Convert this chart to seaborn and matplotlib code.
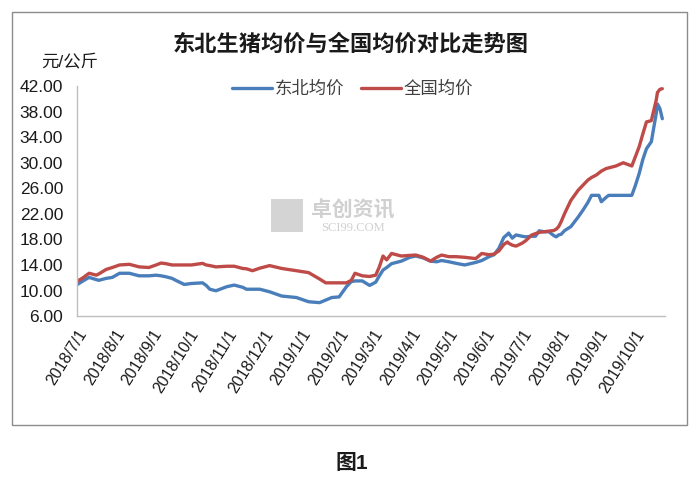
import pandas as pd
import matplotlib
matplotlib.use('Agg')
import matplotlib.pyplot as plt
import matplotlib.dates as mdates
from matplotlib.patches import Rectangle
import seaborn as sns

# dates, with the two series in yuan/kg
dates = [
    '2018-07-01', '2018-07-06', '2018-07-11', '2018-07-17', '2018-07-19', '2018-07-25',
    '2018-07-30', '2018-08-05', '2018-08-13', '2018-08-21', '2018-08-29', '2018-09-04',
    '2018-09-08', '2018-09-12', '2018-09-17', '2018-09-20', '2018-09-27', '2018-10-03',
    '2018-10-12', '2018-10-15', '2018-10-18', '2018-10-23', '2018-11-01', '2018-11-07',
    '2018-11-14', '2018-11-17', '2018-11-22', '2018-11-28', '2018-12-06', '2018-12-16',
    '2018-12-28', '2019-01-07', '2019-01-16', '2019-01-21', '2019-01-26', '2019-02-01',
    '2019-02-07', '2019-02-11', '2019-02-14', '2019-02-20', '2019-02-26', '2019-03-03',
    '2019-03-06', '2019-03-09', '2019-03-12', '2019-03-16', '2019-03-24', '2019-03-31',
    '2019-04-05', '2019-04-11', '2019-04-17', '2019-04-22', '2019-04-26', '2019-05-02',
    '2019-05-08', '2019-05-15', '2019-05-24', '2019-05-29', '2019-06-04', '2019-06-08',
    '2019-06-12', '2019-06-16', '2019-06-19', '2019-06-20', '2019-06-23', '2019-06-26',
    '2019-07-01', '2019-07-04', '2019-07-09', '2019-07-12', '2019-07-15', '2019-07-19',
    '2019-07-23', '2019-07-27', '2019-07-29', '2019-07-31', '2019-08-02', '2019-08-05',
    '2019-08-10', '2019-08-16', '2019-08-20', '2019-08-24', '2019-08-27', '2019-08-31',
    '2019-09-02', '2019-09-04', '2019-09-08', '2019-09-10', '2019-09-16', '2019-09-22',
    '2019-09-29', '2019-10-02', '2019-10-05', '2019-10-08', '2019-10-11', '2019-10-15',
    '2019-10-19', '2019-10-20', '2019-10-22', '2019-10-24',
]

northeast = [
    10.9, 11.5, 12.05, 11.7, 11.6, 11.9,
    12.05, 12.7, 12.7, 12.3, 12.3, 12.4,
    12.3, 12.15, 11.9, 11.6, 10.95, 11.1,
    11.2, 10.8, 10.2, 9.96, 10.6, 10.85,
    10.5, 10.2, 10.2, 10.2, 9.8, 9.13,
    8.9, 8.24, 8.1, 8.5, 8.9, 9.0,
    10.6, 11.4, 11.5, 11.5, 10.8, 11.3,
    12.3, 13.2, 13.6, 14.2, 14.6, 15.2,
    15.4, 15.1, 14.6, 14.5, 14.7, 14.5,
    14.25, 14.0, 14.4, 14.7, 15.3, 15.6,
    16.6, 18.3, 18.8, 19.0, 18.2, 18.7,
    18.5, 18.4, 18.5, 18.5, 19.35, 19.2,
    19.2, 18.6, 18.4, 18.7, 18.8, 19.4,
    20.0, 21.5, 22.6, 23.8, 24.9, 24.9,
    24.9, 23.9, 24.6, 24.9, 24.9, 24.9,
    24.9, 26.5, 28.3, 30.5, 32.2, 33.3,
    37.7, 39.2, 38.5, 36.9,
]

national = [
    11.4, 12.0, 12.7, 12.4, 12.6, 13.3,
    13.6, 14.0, 14.1, 13.7, 13.6, 14.0,
    14.3, 14.2, 14.0, 14.0, 14.0, 14.0,
    14.25, 14.0, 13.9, 13.7, 13.8, 13.8,
    13.45, 13.4, 13.1, 13.5, 13.9, 13.45,
    13.1, 12.8, 11.8, 11.2, 11.2, 11.2,
    11.2, 11.6, 12.7, 12.3, 12.2, 12.4,
    13.7, 15.4, 14.8, 15.8, 15.4, 15.5,
    15.55, 15.2, 14.6, 15.2, 15.55, 15.3,
    15.3, 15.2, 15.0, 15.8, 15.6, 15.7,
    16.2, 17.2, 17.6, 17.4, 17.1, 16.95,
    17.4, 17.8, 18.7, 18.9, 19.1, 19.2,
    19.3, 19.4, 19.6, 20.0, 20.75, 22.1,
    24.1, 25.7, 26.5, 27.3, 27.7, 28.1,
    28.4, 28.7, 29.1, 29.2, 29.5, 30.0,
    29.5, 31.0, 32.5, 34.5, 36.4, 36.6,
    39.8, 41.0, 41.5, 41.6,
]

series_names = ['东北均价', '全国均价']
colors = ['#4A7EBB', '#BE4B48']

df = pd.DataFrame({'date': pd.to_datetime(dates),
                   series_names[0]: northeast,
                   series_names[1]: national})
long_df = df.melt(id_vars='date', var_name='series', value_name='price')

sns.set_style('white')
plt.rcParams['font.family'] = ['Liberation Sans', 'Noto Sans CJK SC', 'DejaVu Sans']

fig = plt.figure(figsize=(6.99, 4.84), dpi=100)
ax = fig.add_axes([0.110, 0.347, 0.841, 0.475])

sns.lineplot(data=long_df, x='date', y='price', hue='series',
             palette=colors, hue_order=series_names, linewidth=2.4, ax=ax)

ax.set_ylim(6, 42)
ax.set_yticks(range(6, 43, 4))
ax.yaxis.set_major_formatter(plt.FuncFormatter(lambda v, p: f'{v:.2f}'))
ax.set_xlim(pd.Timestamp('2018-07-01'), pd.Timestamp('2019-10-26'))
ax.xaxis.set_major_locator(mdates.MonthLocator())
ax.xaxis.set_major_formatter(plt.FuncFormatter(
    lambda v, p: '{0.year}/{0.month}/{0.day}'.format(mdates.num2date(v))))
ax.set_xlabel('')
ax.set_ylabel('')

for s in ['top', 'right']:
    ax.spines[s].set_visible(False)
for s in ['left', 'bottom']:
    ax.spines[s].set_color('#BFBFBF')
    ax.spines[s].set_linewidth(1)
ax.tick_params(axis='x', direction='out', length=5, color='#BFBFBF', width=1,
               labelsize=11.5, pad=3, labelcolor='#1a1a1a')
ax.tick_params(axis='y', direction='out', length=4, color='#BFBFBF', width=1,
               labelsize=12.5, pad=6, labelcolor='#1a1a1a')
plt.setp(ax.get_xticklabels(), rotation=58, ha='right', rotation_mode='anchor')

leg = ax.legend(loc='center', bbox_to_anchor=(0.469, 0.987), ncol=2, frameon=False,
                fontsize=12.5, handlelength=2.3, handletextpad=0.15, columnspacing=1.0)
for t in leg.get_texts():
    t.set_color('#404040')

# title, unit and caption
fig.text(0.502, 0.907, '东北生猪均价与全国均价对比走势图', ha='center', va='center',
         fontsize=16, fontweight='bold', color='#1a1a1a')
fig.text(0.099, 0.872, '元/公斤', ha='center', va='center', fontsize=12.5, color='#1a1a1a')
fig.text(0.503, 0.043, '图1', ha='center', va='center', fontsize=15,
         fontweight='bold', color='#1a1a1a')

# watermark
fig.add_artist(Rectangle((0.387, 0.520), 0.046, 0.068, transform=fig.transFigure,
                         facecolor='#D4D4D4', edgecolor='none'))
fig.text(0.505, 0.565, '卓创资讯', ha='center', va='center', fontsize=15,
         color='#D0D0D0', fontweight='bold')
fig.text(0.505, 0.528, 'SCI99.COM', ha='center', va='center', fontsize=9,
         color='#D0D0D0', family=['Liberation Serif'])

# outer chart frame
fig.add_artist(Rectangle((0.017, 0.122), 0.966, 0.853, transform=fig.transFigure,
                         facecolor='none', edgecolor='#8C8C8C', linewidth=1))

fig.savefig('out.png', dpi=100)
